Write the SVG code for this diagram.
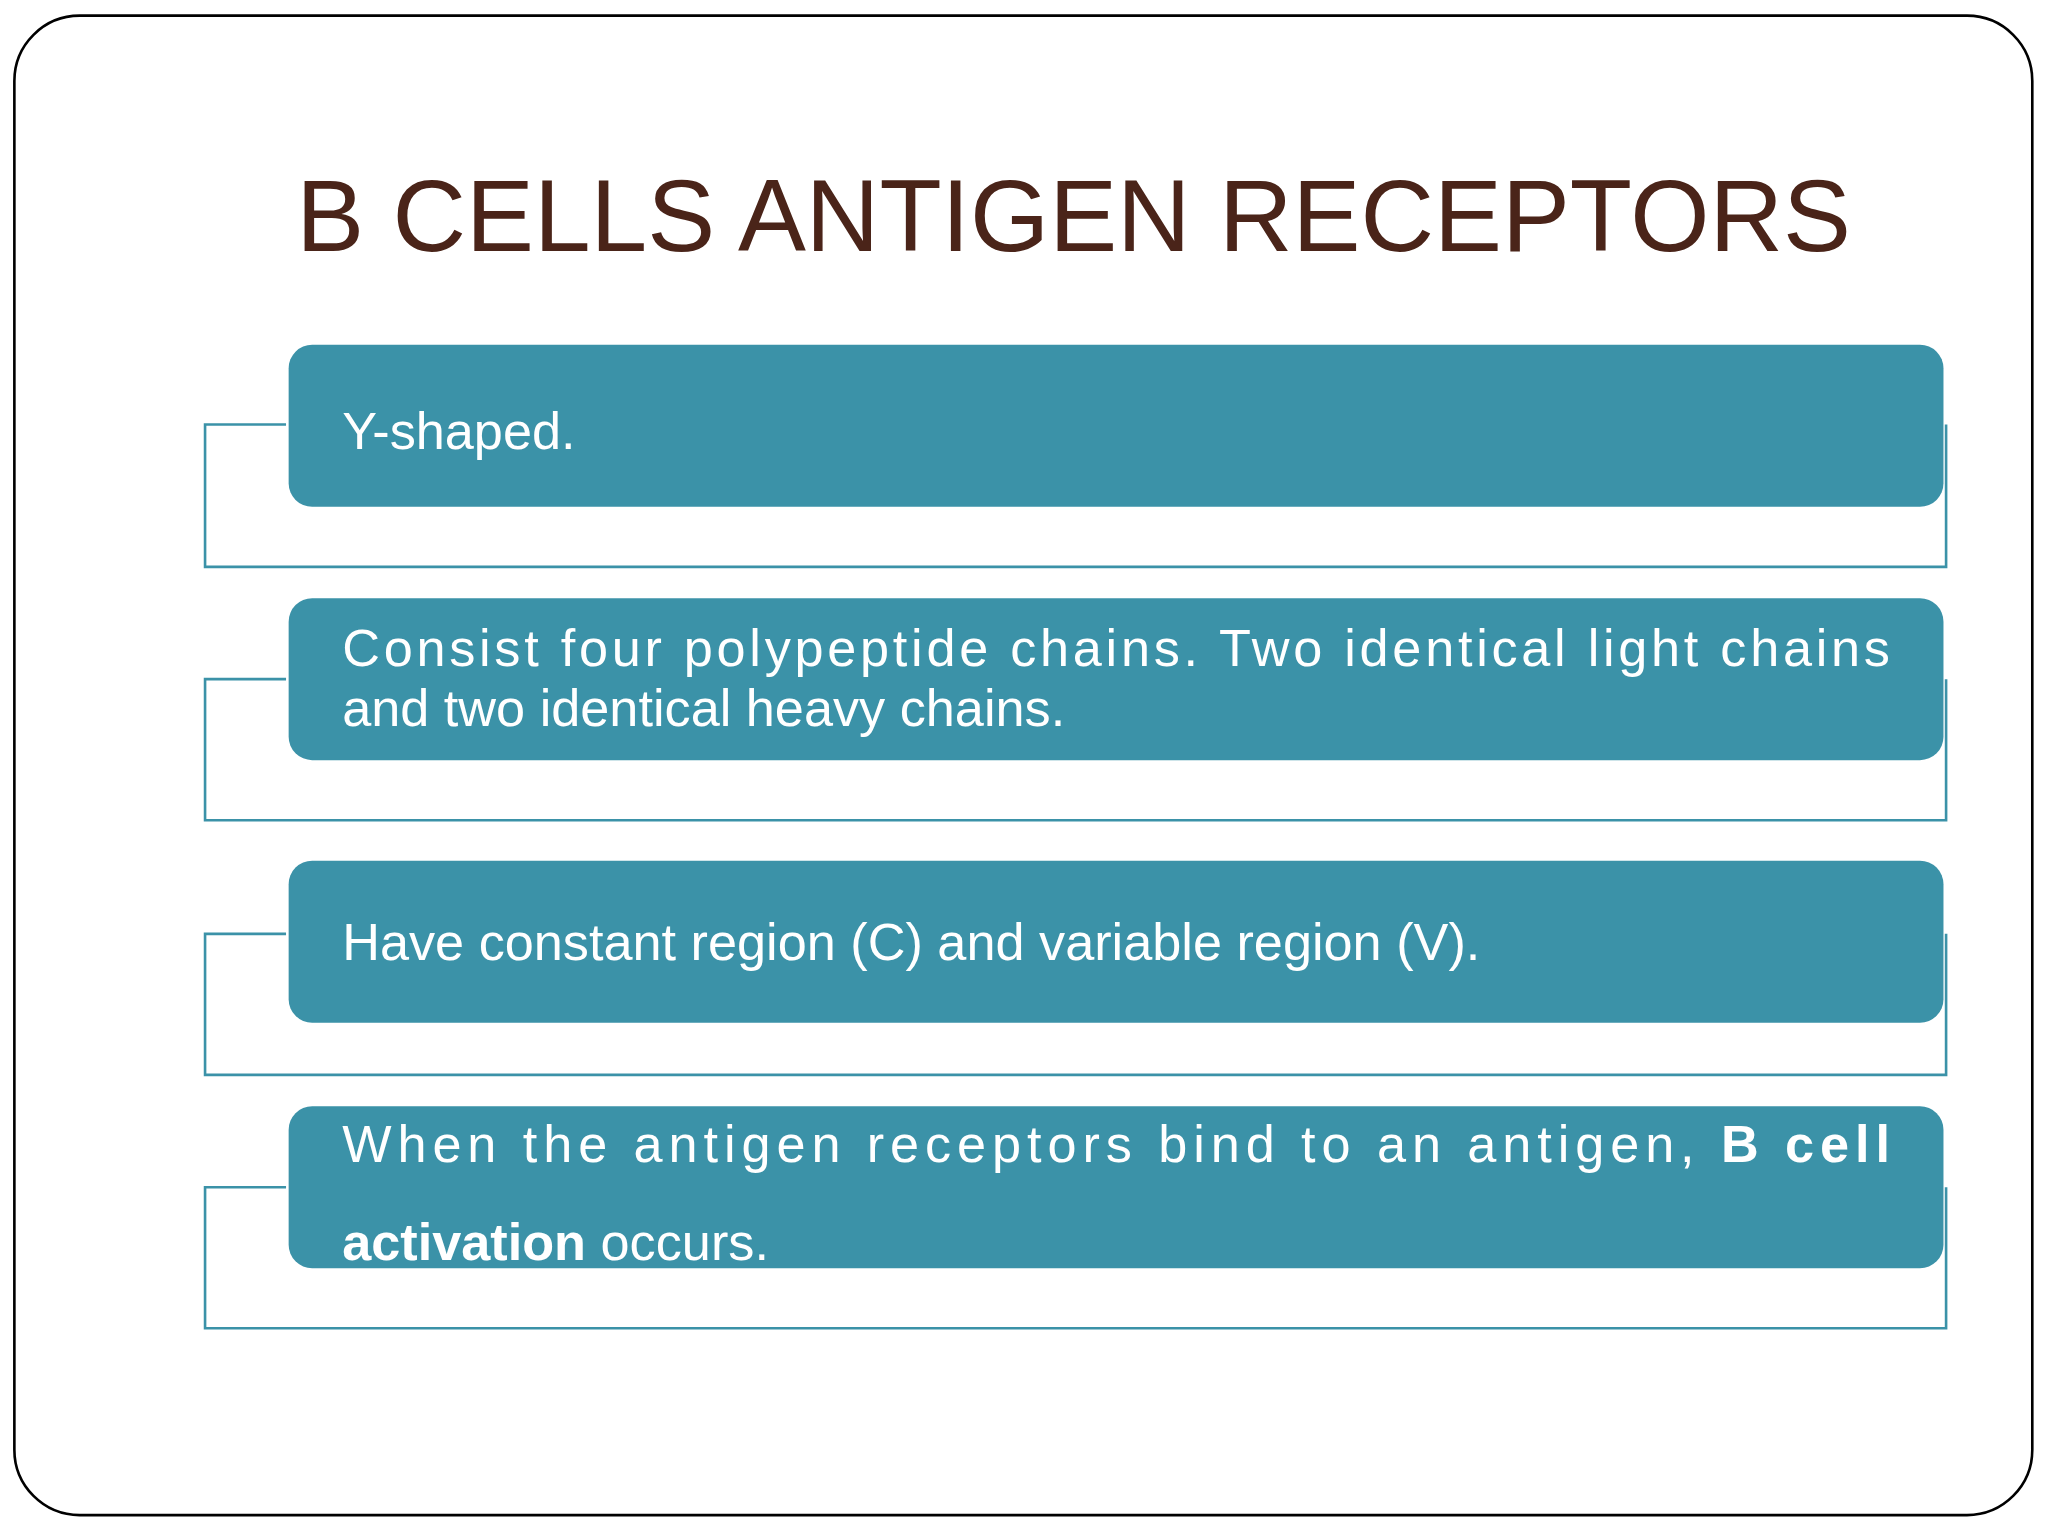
<svg xmlns="http://www.w3.org/2000/svg" width="2048" height="1536" viewBox="0 0 2048 1536">
<style>
.box{fill:#3b92a8}
.br{fill:none;stroke:#3b92a8;stroke-width:2}
.t{font-family:"Liberation Sans",Arial,sans-serif;font-size:40px;fill:#ffffff}
.b{font-weight:bold}
</style>
<rect width="2048" height="1536" fill="#fff"/>
<g transform="scale(1.3061)">
<rect x="11" y="12" width="1545" height="1148" rx="50" fill="none" stroke="#000" stroke-width="2"/>
<text x="822" y="192" text-anchor="middle" font-family="Liberation Sans,Arial,sans-serif" font-size="78" fill="#4a2419">B CELLS ANTIGEN RECEPTORS</text>
<g id="connectors">
<path class="br" d="M219,325 H157 V434 H1490 V325"/>
<path class="br" d="M219,520 H157 V628 H1490 V520"/>
<path class="br" d="M219,715 H157 V823 H1490 V715"/>
<path class="br" d="M219,909 H157 V1017 H1490 V909"/>
</g>
<g id="n1"><rect class="box" x="221" y="264" width="1267" height="124" rx="18"/>
<text class="t" x="262" y="344">Y-shaped.</text></g>
<g id="n2"><rect class="box" x="221" y="458" width="1267" height="124" rx="18"/>
<text class="t" x="262" y="510" textLength="1185" lengthAdjust="spacing">Consist four polypeptide chains. Two identical light chains</text>
<text class="t" x="262" y="556">and two identical heavy chains.</text></g>
<g id="n3"><rect class="box" x="221" y="659" width="1267" height="124" rx="18"/>
<text class="t" x="262" y="735">Have constant region (C) and variable region (V).</text></g>
<g id="n4"><rect class="box" x="221" y="847" width="1267" height="124" rx="18"/>
<text class="t" x="262" y="890" textLength="1185" lengthAdjust="spacing">When the antigen receptors bind to an antigen, <tspan class="b">B cell</tspan></text>
<text class="t" x="262" y="965"><tspan class="b">activation</tspan> occurs.</text></g>
</g>
</svg>
